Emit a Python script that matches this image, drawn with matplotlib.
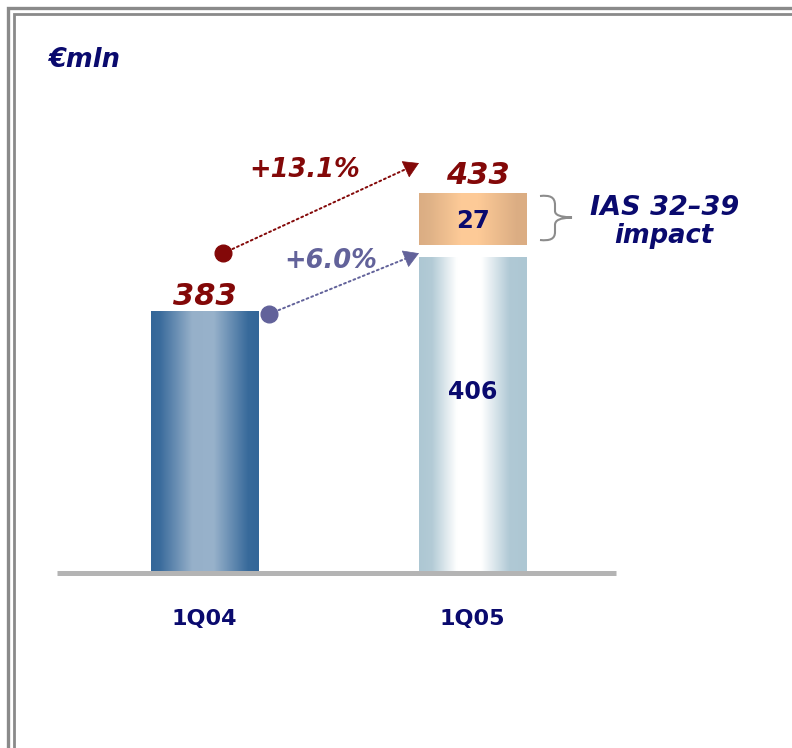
import matplotlib
matplotlib.use('Agg')
import matplotlib.pyplot as plt
import numpy as np
from matplotlib.colors import LinearSegmentedColormap
from matplotlib.lines import Line2D
from matplotlib.path import Path
from matplotlib.patches import PathPatch

# data
quarters = ['1Q04', '1Q05']
underlying = [383, 406]     # 1Q05 before IAS 32-39
ias_impact = [0, 27]
totals = [383, 433]
growth_total = '+13.1%'
growth_underlying = '+6.0%'

W, H = 792, 748
navy = '#0a0a6e'
darkred = '#830808'
slate = '#62629a'
bold_it = dict(fontweight='bold', fontstyle='italic')


def fig_xy(px, py):
    """pixel (from top-left) -> figure fraction"""
    return px / W, 1 - py / H


fig = plt.figure(figsize=(W / 100, H / 100), dpi=100)

# axes box in pixels
a_l, a_r, a_t, a_b = 57, 616, 100, 572.5
ax = fig.add_axes([a_l / W, 1 - a_b / H, (a_r - a_l) / W, (a_b - a_t) / H])

x = np.arange(len(quarters))
width = 0.40
gap = 5.1          # white gap between 406 and the IAS block
floor, ceil = 271.9, 472.6   # truncated axis like the slide


def gradient_bar(xc, top, bottom, stops):
    cmap = LinearSegmentedColormap.from_list('g', stops)
    bar = ax.bar(xc, top - bottom, width, bottom=bottom, color='none', edgecolor='none')[0]
    g = np.linspace(0, 1, 256).reshape(1, -1)
    im = ax.imshow(g, cmap=cmap, aspect='auto', zorder=2,
                   extent=(xc - width / 2, xc + width / 2, bottom, top))
    im.set_clip_path(bar)


st_04 = [(0, '#336698'), (0.08, '#3a6b9c'), (0.38, '#96b0c9'),
         (0.58, '#98b2cb'), (0.9, '#386a9b'), (1, '#336698')]
st_05 = [(0, '#adc7d3'), (0.12, '#b3cbd6'), (0.35, '#ffffff'),
         (0.58, '#ffffff'), (0.84, '#b0c9d5'), (1, '#adc7d3')]
st_ias = [(0, '#dbad83'), (0.1, '#dfb287'), (0.4, '#fecb98'),
          (0.55, '#fdca97'), (0.9, '#dcae84'), (1, '#dbad83')]

gradient_bar(x[0], underlying[0], floor, st_04)
gradient_bar(x[1], underlying[1], floor, st_05)
gradient_bar(x[1], underlying[1] + ias_impact[1], underlying[1] + gap, st_ias)

ax.set_xlim(-0.55, 1.535)
ax.set_ylim(floor, ceil)

# labels on bars
ax.text(x[0], totals[0] + 2.5, str(totals[0]), ha='center', va='baseline',
        fontsize=22, color=darkred, **bold_it)
ax.text(x[1] + 0.02, totals[1] + 4.1, str(totals[1]), ha='center', va='baseline',
        fontsize=22, color=darkred, **bold_it)
ax.text(x[1], 348.6, str(underlying[1]), ha='center', va='center',
        fontsize=17, fontweight='bold', color=navy)
ax.text(x[1], 421, str(ias_impact[1]), ha='center', va='center',
        fontsize=17.5, fontweight='bold', color=navy)


# growth arrows: dotted line, solid head, round dot at the start
def growth_arrow(start, end, color):
    ax.annotate('', xy=end, xytext=start,
                arrowprops=dict(arrowstyle='-', color=color, lw=1.4,
                                linestyle=(0, (1, 1.6)), shrinkA=0, shrinkB=8))
    near = (start[0] + 0.95 * (end[0] - start[0]), start[1] + 0.95 * (end[1] - start[1]))
    ax.annotate('', xy=end, xytext=near,
                arrowprops=dict(arrowstyle='-|>,head_length=0.5,head_width=0.3',
                                color=color, lw=0.5, shrinkA=0, shrinkB=0,
                                mutation_scale=20))
    ax.plot(*start, 'o', color=color, markersize=12, zorder=4)


growth_arrow((0.07, 407.5), (0.80, 445.8), darkred)
growth_arrow((0.241, 381.7), (0.80, 407.5), slate)

ax.text(0.375, 439.9, growth_total, ha='center', va='baseline',
        fontsize=18.5, color=darkred, **bold_it)
ax.text(0.472, 401.2, growth_underlying, ha='center', va='baseline',
        fontsize=18.5, color=slate, **bold_it)

# axis styling
for s in ['top', 'left', 'right']:
    ax.spines[s].set_visible(False)
ax.spines['bottom'].set_linewidth(3.6)
ax.spines['bottom'].set_color('#b4b4b4')
ax.spines['bottom'].set_capstyle('butt')
ax.set_yticks([])
ax.set_xticks(x, quarters)
ax.tick_params(axis='x', length=0, pad=26, labelsize=16, labelcolor=navy)
for t in ax.get_xticklabels():
    t.set_fontweight('bold')

# brace for IAS block
bp = [(540, 196), (550, 195), (555, 197), (555, 205), (555, 211),
      (555, 215), (560, 217), (572, 217.5), (560, 218), (555, 220), (555, 225),
      (555, 232), (555, 239), (550, 241), (540, 240)]
codes = [Path.MOVETO, Path.CURVE4, Path.CURVE4, Path.CURVE4, Path.LINETO,
         Path.CURVE4, Path.CURVE4, Path.CURVE4, Path.CURVE4, Path.CURVE4, Path.CURVE4,
         Path.LINETO, Path.CURVE4, Path.CURVE4, Path.CURVE4]
brace = PathPatch(Path([fig_xy(*p) for p in bp], codes), transform=fig.transFigure,
                  fill=False, edgecolor='#8c8c8c', lw=1.5)
fig.add_artist(brace)

fig.text(*fig_xy(665, 215), 'IAS 32\u201339', ha='center', va='baseline',
         fontsize=19.5, color=navy, **bold_it)
fig.text(*fig_xy(664, 243), 'impact', ha='center', va='baseline',
         fontsize=18.5, color=navy, **bold_it)

fig.text(*fig_xy(48, 67), '\u20acmln', ha='left', va='baseline',
         fontsize=18.5, color=navy, **bold_it)

# double frame of the slide
for off, lw in [(8.3, 2.4), (13.8, 2.0)]:
    pts = [fig_xy(off, H + 5), fig_xy(off, off), fig_xy(W + 5, off)]
    fig.add_artist(Line2D([p[0] for p in pts], [p[1] for p in pts],
                          transform=fig.transFigure, lw=lw, color='#8a8a8a',
                          solid_joinstyle='miter'))

fig.savefig('out.png', dpi=100)
